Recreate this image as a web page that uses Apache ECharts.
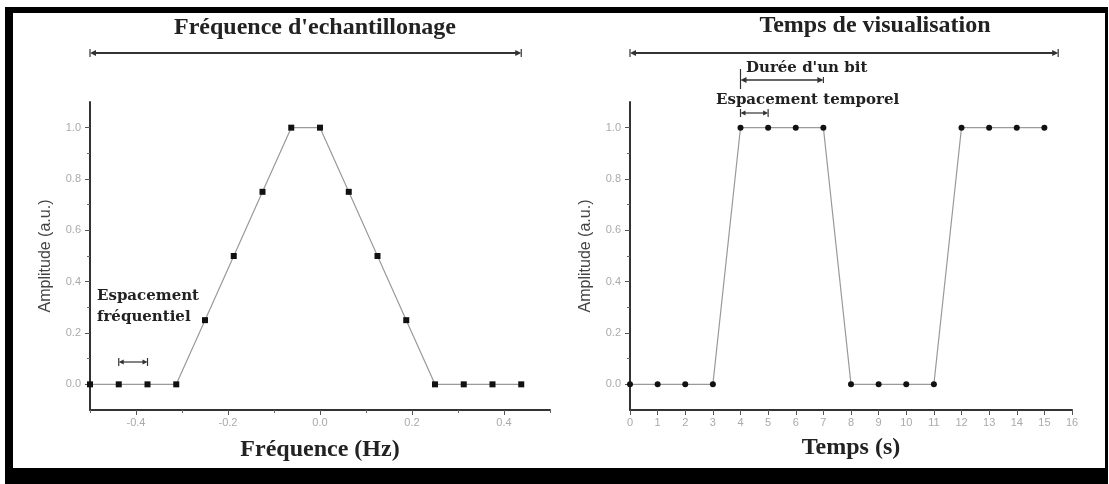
<!DOCTYPE html>
<html>
<head>
<meta charset="utf-8">
<script src="https://cdn.jsdelivr.net/npm/echarts@6/dist/echarts.min.js"></script>
<style>
  html, body { margin: 0; padding: 0; background: #ffffff; }
  #chart { width: 1109px; height: 484px; }
</style>
</head>
<body>
<div id="chart"></div>
<script>
// Spectrum: sample frequencies (Hz) and their amplitudes
const freqHz  = [-0.5, -0.4375, -0.375, -0.3125, -0.25, -0.1875, -0.125, -0.0625,
                 0, 0.0625, 0.125, 0.1875, 0.25, 0.3125, 0.375, 0.4375];
const freqAmp = [0, 0, 0, 0, 0.25, 0.5, 0.75, 1, 1, 0.75, 0.5, 0.25, 0, 0, 0, 0];

// Time signal: sample instants (s) and amplitudes
const timeS   = [0, 1, 2, 3, 4, 5, 6, 7, 8, 9, 10, 11, 12, 13, 14, 15];
const timeAmp = [0, 0, 0, 0, 1, 1, 1, 1, 0, 0, 0, 0, 1, 1, 1, 1];

// Tick values
const ampTicks   = [0, 0.2, 0.4, 0.6, 0.8, 1.0];
const ampMinor   = [0.1, 0.3, 0.5, 0.7, 0.9];
const freqTicks  = [-0.4, -0.2, 0, 0.2, 0.4];
const freqMinor  = [-0.5, -0.3, -0.1, 0.1, 0.3, 0.5];
const timeTicks  = [0, 1, 2, 3, 4, 5, 6, 7, 8, 9, 10, 11, 12, 13, 14, 15, 16];

// Spans marked by the annotation arrows (in axis units)
const freqWindow = [-0.5, 0.4375];
const freqStep   = [-0.4375, -0.375];
const timeWindow = [0, 15.5];
const bitSpan    = [4, 7];
const timeStep   = [4, 5];

const SANS  = '"Liberation Sans", Arial, sans-serif';
const SERIF = '"Liberation Serif", "Times New Roman", serif';
const SLAB  = '"DejaVu Serif", serif';
const INK = '#222';

const chart = echarts.init(document.getElementById('chart'), null, { renderer: 'canvas' });

function mainY(gridIndex) {
  return {
    gridIndex, type: 'value', min: -0.1, max: 1.1, interval: 0.1,
    name: 'Amplitude (a.u.)', nameLocation: 'middle', nameGap: 36,
    nameTextStyle: { fontFamily: SANS, fontSize: 16, color: '#444' },
    axisLine: { show: true, onZero: false, lineStyle: { color: '#333', width: 2 } },
    axisTick: { show: true, customValues: ampTicks, length: 5, lineStyle: { color: '#555', width: 1 } },
    axisLabel: { show: true, customValues: ampTicks, margin: 9, fontFamily: SANS, fontSize: 11, color: '#aaa',
                 formatter: v => v.toFixed(1) },
    splitLine: { show: false }
  };
}
function minorY(gridIndex) {
  return {
    gridIndex, type: 'value', min: -0.1, max: 1.1, interval: 0.1, position: 'left', offset: 0,
    axisLine: { show: false, onZero: false },
    axisTick: { show: true, customValues: ampMinor, length: 3, lineStyle: { color: '#666', width: 1 } },
    axisLabel: { show: false }, splitLine: { show: false }
  };
}

const option = {
  backgroundColor: '#ffffff',
  animation: false,
  title: [
    { text: "Fréquence d'echantillonage", left: 310, top: 11, textAlign: 'center',
      textStyle: { fontFamily: SERIF, fontWeight: 'bold', fontSize: 24, color: INK } },
    { text: 'Temps de visualisation', left: 870, top: 9, textAlign: 'center',
      textStyle: { fontFamily: SERIF, fontWeight: 'bold', fontSize: 24, color: INK } }
  ],
  grid: [
    { left: 90, top: 102, width: 460, height: 308 },
    { left: 630, top: 102, width: 442, height: 308 }
  ],
  xAxis: [
    {
      gridIndex: 0, type: 'value', min: -0.5, max: 0.5, interval: 0.1,
      name: 'Fréquence (Hz)', nameLocation: 'middle', nameGap: 28,
      nameTextStyle: { fontFamily: SERIF, fontWeight: 'bold', fontSize: 24, color: INK },
      axisLine: { show: true, onZero: false, lineStyle: { color: '#333', width: 2 } },
      axisTick: { show: true, customValues: freqTicks, length: 5, lineStyle: { color: '#555', width: 1 } },
      axisLabel: { show: true, customValues: freqTicks, margin: 7, fontFamily: SANS, fontSize: 11, color: '#aaa',
                   formatter: v => v.toFixed(1) },
      splitLine: { show: false }
    },
    {
      gridIndex: 0, type: 'value', min: -0.5, max: 0.5, interval: 0.1, position: 'bottom', offset: 0,
      axisLine: { show: false, onZero: false },
      axisTick: { show: true, customValues: freqMinor, length: 3, lineStyle: { color: '#666', width: 1 } },
      axisLabel: { show: false }, splitLine: { show: false }
    },
    {
      gridIndex: 1, type: 'value', min: 0, max: 16, interval: 1,
      name: 'Temps (s)', nameLocation: 'middle', nameGap: 26,
      nameTextStyle: { fontFamily: SERIF, fontWeight: 'bold', fontSize: 24, color: INK },
      axisLine: { show: true, onZero: false, lineStyle: { color: '#333', width: 2 } },
      axisTick: { show: true, customValues: timeTicks, length: 5, lineStyle: { color: '#555', width: 1 } },
      axisLabel: { show: true, customValues: timeTicks, margin: 7, fontFamily: SANS, fontSize: 11, color: '#aaa' },
      splitLine: { show: false }
    }
  ],
  yAxis: [mainY(0), minorY(0), mainY(1), minorY(1)],
  series: [
    {
      type: 'line', xAxisIndex: 0, yAxisIndex: 0,
      data: freqHz.map((f, i) => [f, freqAmp[i]]),
      symbol: 'rect', symbolSize: 6,
      lineStyle: { color: '#9a9a9a', width: 1.2 },
      itemStyle: { color: '#111' }
    },
    {
      type: 'line', xAxisIndex: 2, yAxisIndex: 2,
      data: timeS.map((t, i) => [t, timeAmp[i]]),
      symbol: 'circle', symbolSize: 6,
      lineStyle: { color: '#9a9a9a', width: 1.2 },
      itemStyle: { color: '#111' }
    }
  ]
};

chart.setOption(option);

// Horizontal double-headed arrow between two pixel x positions
function arrow(x1, x2, y, opt) {
  const o = Object.assign({ width: 2, head: 6, half: 3, bar: 4, color: '#333', leftBar: null }, opt || {});
  const els = [
    { type: 'line', shape: { x1: x1 + 2, y1: y, x2: x2 - 2, y2: y }, style: { stroke: o.color, lineWidth: o.width }, z: 10 },
    { type: 'polygon', shape: { points: [[x1, y], [x1 + o.head, y - o.half], [x1 + o.head, y + o.half]] }, style: { fill: o.color }, z: 10 },
    { type: 'polygon', shape: { points: [[x2, y], [x2 - o.head, y - o.half], [x2 - o.head, y + o.half]] }, style: { fill: o.color }, z: 10 },
    { type: 'line', shape: { x1: x2, y1: y - o.bar, x2: x2, y2: y + o.bar }, style: { stroke: o.color, lineWidth: 1.2 }, z: 10 }
  ];
  const lb = o.leftBar || [y - o.bar, y + o.bar];
  els.push({ type: 'line', shape: { x1: x1, y1: lb[0], x2: x1, y2: lb[1] }, style: { stroke: o.color, lineWidth: 1.2 }, z: 10 });
  return els;
}
function label(text, x, y, size, align) {
  return {
    type: 'text', x, y, z: 11,
    style: { text, font: 'bold ' + size + 'px ' + SLAB, fill: INK,
             align: align || 'left', verticalAlign: 'middle',
             textAlign: align || 'left', textVerticalAlign: 'middle' }
  };
}
const px = (g, v) => chart.convertToPixel({ gridIndex: g }, [v, 0])[0];

const frame = [
  { type: 'rect', shape: { x: 5, y: 7, width: 1103, height: 6 }, style: { fill: '#000' }, z: 20 },
  { type: 'rect', shape: { x: 5, y: 7, width: 8, height: 477 }, style: { fill: '#000' }, z: 20 },
  { type: 'rect', shape: { x: 1105, y: 7, width: 3, height: 477 }, style: { fill: '#000' }, z: 20 },
  { type: 'rect', shape: { x: 5, y: 468, width: 1103, height: 16 }, style: { fill: '#000' }, z: 20 }
];

const notes = [].concat(
  arrow(px(0, freqWindow[0]), px(0, freqWindow[1]), 53, { width: 2, head: 6, half: 3, bar: 4 }),
  arrow(px(1, timeWindow[0]), px(1, timeWindow[1]), 53, { width: 2, head: 6, half: 3, bar: 4 }),
  arrow(px(1, bitSpan[0]), px(1, bitSpan[1]), 80, { width: 1.6, head: 6, half: 3, bar: 3, leftBar: [69, 89] }),
  arrow(px(1, timeStep[0]), px(1, timeStep[1]), 113, { width: 1.2, head: 5, half: 2.5, bar: 4 }),
  arrow(px(0, freqStep[0]), px(0, freqStep[1]), 362, { width: 1.2, head: 5, half: 2.5, bar: 4 }),
  [
    label("Durée d'un bit", 746, 68, 15),
    label('Espacement temporel', 716, 100, 15),
    label('Espacement', 97, 296, 15),
    label('fréquentiel', 97, 317, 15)
  ]
);

chart.setOption({ graphic: { elements: frame.concat(notes) } });
</script>
</body>
</html>
